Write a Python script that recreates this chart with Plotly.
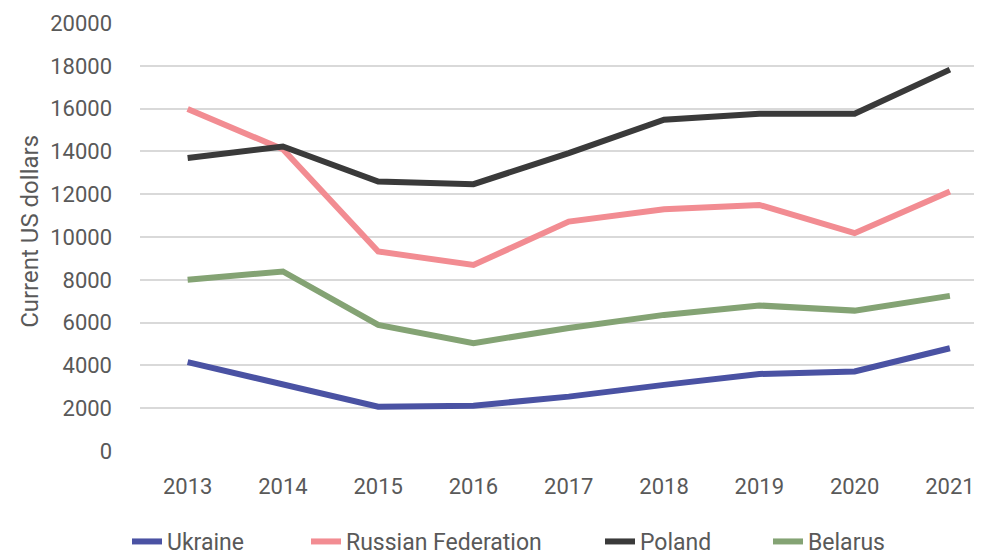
import plotly.graph_objects as go

years = ["2013", "2014", "2015", "2016", "2017", "2018", "2019", "2020", "2021"]
ukraine = [4150, 3100, 2070, 2120, 2540, 3090, 3600, 3720, 4800]
russia = [15980, 14100, 9320, 8690, 10720, 11300, 11500, 10180, 12130]
poland = [13690, 14230, 12590, 12470, 13920, 15480, 15760, 15760, 17820]
belarus = [8000, 8390, 5890, 5040, 5750, 6360, 6800, 6560, 7250]

series = [
    ("Ukraine", ukraine, "#4a52a3"),
    ("Russian Federation", russia, "#f28c92"),
    ("Poland", poland, "#3a3a3a"),
    ("Belarus", belarus, "#84a374"),
]
legend_text_x = [167, 346, 640, 808]

font_family = "Roboto, Open Sans, sans-serif"

fig = go.Figure()
legends = {}
for i, (name, vals, color) in enumerate(series):
    lg = "legend" if i == 0 else f"legend{i+1}"
    fig.add_trace(go.Scatter(x=years, y=vals, name=name, mode="lines",
                             line=dict(color=color, width=6), legend=lg))
    legends[lg] = dict(orientation="h", xref="container", yref="container",
                       x=(legend_text_x[i] - 48) / 982, xanchor="left",
                       y=-0.004, yanchor="bottom",
                       font=dict(size=23, color="#595959"),
                       bgcolor="rgba(0,0,0,0)", borderwidth=0)

fig.update_layout(
    width=982, height=555,
    margin=dict(l=132, r=2, t=15, b=112, autoexpand=False),
    paper_bgcolor="white", plot_bgcolor="white",
    font=dict(family=font_family, color="#595959", size=22),
    showlegend=True,
    xaxis=dict(type="category", range=[-0.5, 8.4], showgrid=False,
               showline=False, ticks="", tickfont=dict(size=22),
               ticklabelstandoff=20),
    yaxis=dict(range=[0, 20000], dtick=2000, tickformat="d", showgrid=True,
               gridcolor="#d9d9d9", gridwidth=2, zeroline=False,
               ticks="", tickfont=dict(size=22), ticklabelstandoff=27),
    annotations=[dict(text="Current US dollars", textangle=-90,
                      xref="paper", yref="paper", x=(22 - 132) / 848, y=0.512,
                      xanchor="center", yanchor="middle", showarrow=False,
                      font=dict(size=24, color="#595959"))],
    **legends,
)

fig.write_html("out.html")
